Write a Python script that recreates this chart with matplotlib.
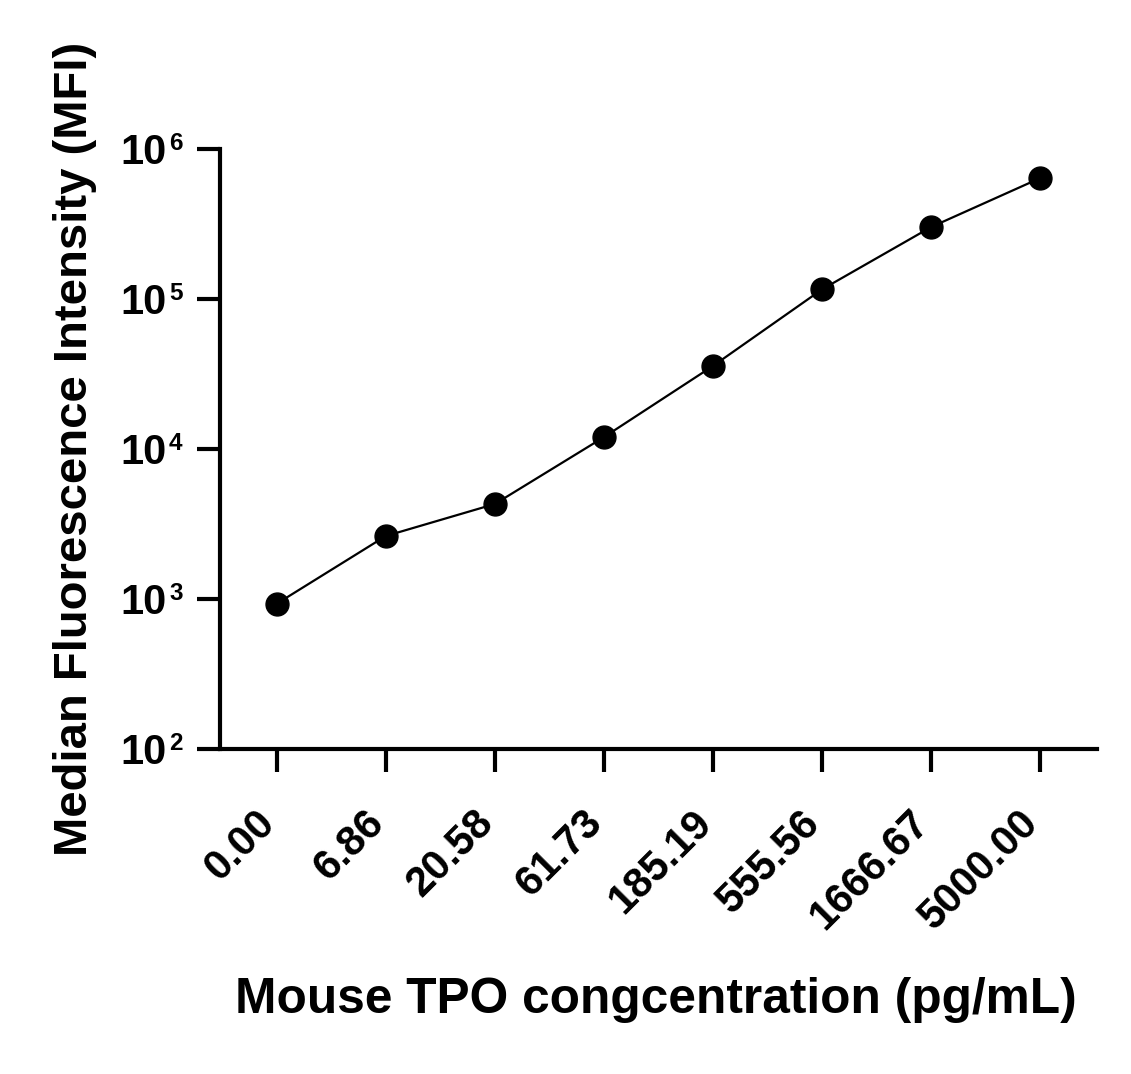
import numpy as np
import matplotlib
matplotlib.use("Agg")
import matplotlib.pyplot as plt
from matplotlib.ticker import FixedLocator, NullFormatter

plt.rcParams['font.family'] = ['Liberation Sans', 'DejaVu Sans']
plt.rcParams['font.weight'] = 'bold'

# data
concentrations = ['0.00', '6.86', '20.58', '61.73', '185.19', '555.56', '1666.67', '5000.00']
mfi = [930, 2630, 4300, 12000, 35800, 116000, 302000, 640000]
y_decades = [2, 3, 4, 5, 6]

fig = plt.figure(figsize=(11.31, 10.74), dpi=100)
ax = fig.add_axes([220 / 1131, 1 - 749 / 1074, (1097 - 220) / 1131, 600 / 1074])

x = np.arange(len(concentrations))
ax.plot(x, mfi, color='black', lw=1.6, marker='o', ms=16.5, clip_on=False, zorder=3)

ax.set_yscale('log')
ax.set_ylim(10 ** y_decades[0], 10 ** y_decades[-1])
ax.set_xlim(-0.52, len(concentrations) - 0.48)

ax.yaxis.set_major_locator(FixedLocator([10.0 ** d for d in y_decades]))
ax.yaxis.set_major_formatter(NullFormatter())
ax.yaxis.set_minor_locator(FixedLocator([]))
ax.yaxis.set_minor_formatter(NullFormatter())

# y tick labels as "10" with a small superscript exponent
ytrans = ax.get_yaxis_transform()
for d in y_decades:
    ax.annotate('10', xy=(0, 10.0 ** d), xycoords=ytrans, xytext=(-53, -15),
                textcoords='offset pixels', ha='right', va='baseline',
                fontsize=30, fontweight='bold')
    ax.annotate(str(d), xy=(0, 10.0 ** d), xycoords=ytrans, xytext=(-51, -1),
                textcoords='offset pixels', ha='left', va='baseline',
                fontsize=17.5, fontweight='bold')

ax.set_xticks(x)
ax.set_xticklabels(concentrations, rotation=45, ha='right', va='baseline',
                   rotation_mode='anchor')

for side in ['top', 'right']:
    ax.spines[side].set_visible(False)
for side in ['left', 'bottom']:
    ax.spines[side].set_linewidth(3)

ax.tick_params(axis='both', width=3, length=16.5, labelsize=30, direction='out')
ax.tick_params(axis='x', pad=38)

ax.set_xlabel('Mouse TPO congcentration (pg/mL)', fontsize=35.7, fontweight='bold', va='top')
ax.xaxis.set_label_coords(0.497, -0.38)
ax.set_ylabel('Median Fluorescence Intensity (MFI)', fontsize=34, fontweight='bold', va='top')
ax.yaxis.set_label_coords(-0.19, 0.5)

fig.savefig('out.png', dpi=100)
